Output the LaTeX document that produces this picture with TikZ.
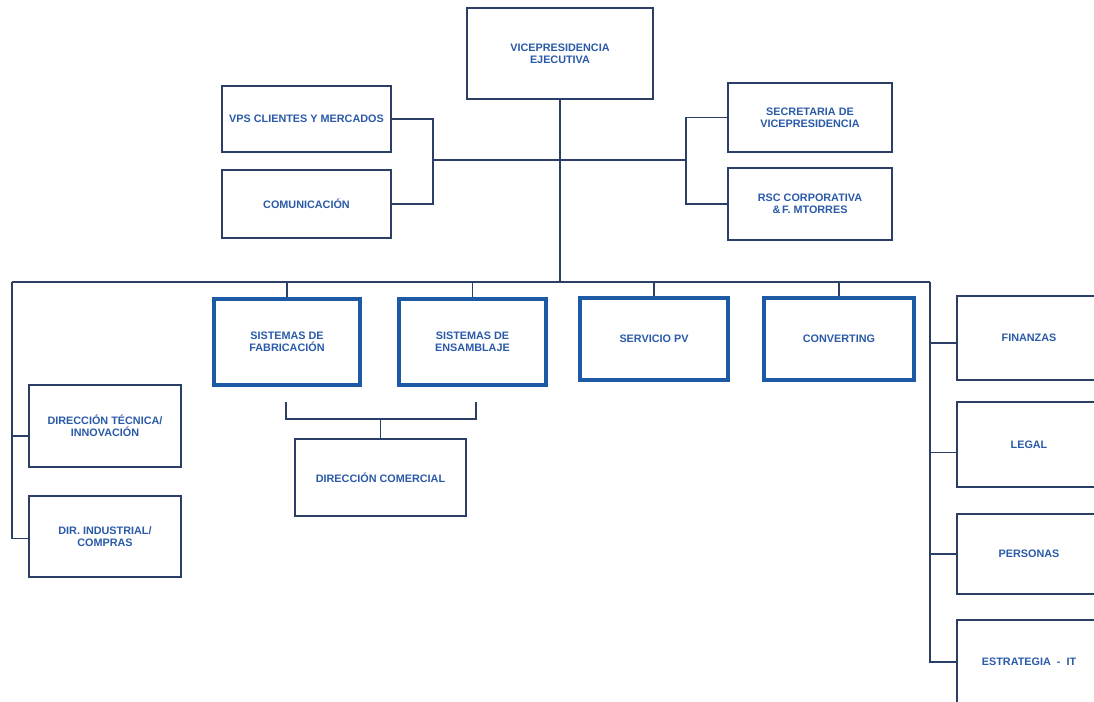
\documentclass[tikz,border=0pt]{standalone}
\usepackage{fontspec}
\setmainfont{Liberation Sans}
\usepackage{tikz}
\usepackage{xcolor}
\usetikzlibrary{positioning, calc}

\definecolor{boxline}{HTML}{2B3F66}
\definecolor{boxthick}{HTML}{1C5AA6}
\definecolor{txtblue}{HTML}{2A5AA8}

\begin{document}
\begin{tikzpicture}[x=0.025cm, y=-0.025cm,
    unit/.style={draw=boxline, line width=1.1pt, fill=white, inner sep=1pt,
        align=center, text=txtblue, font=\bfseries\fontsize{7.7}{8.4}\selectfont},
    mainunit/.style={unit, draw=boxthick, line width=2.8pt},
    link/.style={draw=boxline, line width=1.1pt}]
\clip (0,0) rectangle (1094,702);
\fill[white] (0,0) rectangle (1094,702);

% Top level
\node[unit, minimum width=4.65cm, minimum height=2.275cm] (vpe) at (560,53.5) {VICEPRESIDENCIA\\EJECUTIVA};

% Staff units
\node[unit, minimum width=4.225cm, minimum height=1.65cm] (vps) at (306.5,119) {VPS CLIENTES Y MERCADOS};
\node[unit, minimum width=4.225cm, minimum height=1.7cm] (comunicacion) at (306.5,204) {COMUNICACIÓN};
\node[unit, minimum width=4.1cm, minimum height=1.725cm] (secretaria) at (810,117.5) {SECRETARIA DE\\VICEPRESIDENCIA};
\node[unit, minimum width=4.1cm, minimum height=1.8cm] (rsc) at (810,204) {RSC CORPORATIVA\\\&\,F. MTORRES};

% Business units
\node[mainunit, minimum width=3.65cm, minimum height=2.15cm] (fabricacion) at (287,342) {SISTEMAS DE\\FABRICACIÓN};
\node[mainunit, minimum width=3.68cm, minimum height=2.15cm] (ensamblaje) at (472.5,342) {SISTEMAS DE\\ENSAMBLAJE};
\node[mainunit, minimum width=3.7cm, minimum height=2.05cm] (serviciopv) at (654,339) {SERVICIO PV};
\node[mainunit, minimum width=3.75cm, minimum height=2.05cm] (converting) at (839,339) {CONVERTING};

% Left column
\node[unit, minimum width=3.8cm, minimum height=2.05cm] (dirtecnica) at (105,426) {DIRECCIÓN TÉCNICA/\\INNOVACIÓN};
\node[unit, minimum width=3.8cm, minimum height=2.025cm] (dirindustrial) at (105,536.5) {DIR. INDUSTRIAL/\\COMPRAS};
\node[unit, minimum width=4.275cm, minimum height=1.925cm] (dircomercial) at (380.5,477.5) {DIRECCIÓN COMERCIAL};

% Right column
\node[unit, minimum width=3.6cm, minimum height=2.1cm] (finanzas) at (1029,338) {FINANZAS};
\node[unit, minimum width=3.6cm, minimum height=2.125cm] (legal) at (1029,444.5) {LEGAL};
\node[unit, minimum width=3.6cm, minimum height=2cm] (personas) at (1029,554) {PERSONAS};
\node[unit, minimum width=3.6cm, minimum height=2.1cm] (estrategia) at (1029,662) {ESTRATEGIA\ \ -\ \ IT};

% Junctions
\coordinate (jl) at (433,160);
\coordinate (jr) at (686,160);
\coordinate (busl) at (12,282);
\coordinate (busr) at (930,282);
\coordinate (brl) at (286,402);
\coordinate (brr) at (476,402);
\coordinate (brmid) at (380.5,419);

% Connectors
\draw[link] (vps.east) -| (jl) |- (comunicacion.east);
\draw[link] (secretaria.west) -| (jr) |- (rsc.west);
\draw[link] (jl) -- (jr);
\draw[link] (vpe.south) -- (vpe.south |- busl);
\draw[link] (busl) -- (busr);
\foreach \n in {fabricacion, ensamblaje, serviciopv, converting}
    \draw[link] (\n.north) -- (\n.north |- busl);
\draw[link] (busl) |- ([yshift=-0.05cm]dirindustrial.west);
\draw[link] ([yshift=-0.25cm]dirtecnica.west) -- ([yshift=-0.25cm]dirtecnica.west -| busl);
\draw[link] (brl) |- (brmid) -| (brr);
\draw[link] (brmid) -- (dircomercial.north);
\draw[link] (busr) |- (estrategia.west);
\foreach \n/\dy in {finanzas/-0.12, legal/-0.2, personas/0}
    \draw[link] ([yshift=\dy cm]\n.west) -- ([yshift=\dy cm]\n.west -| busr);
\end{tikzpicture}
\end{document}
